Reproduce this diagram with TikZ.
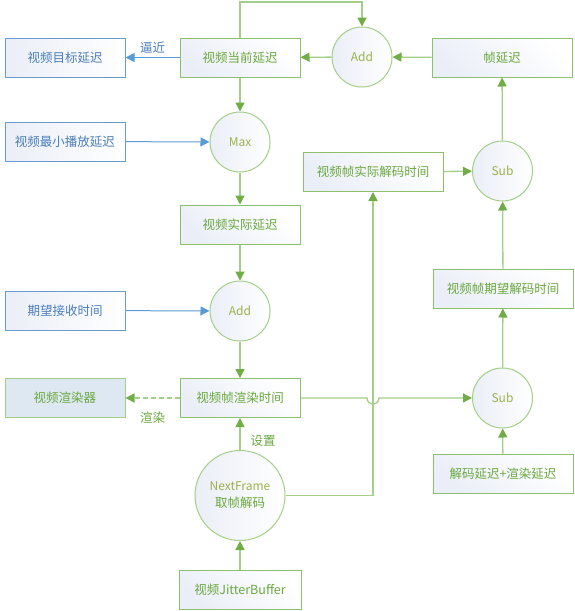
\documentclass[tikz,border=0pt]{standalone}
\usepackage{fontspec}
\setmainfont{Noto Sans CJK SC}
\usetikzlibrary{arrows.meta}
\definecolor{gline}{HTML}{A3CF88}
\definecolor{garrow}{HTML}{70AD47}
\definecolor{gborder}{HTML}{8CC06A}
\definecolor{gtext}{HTML}{6AA83E}
\definecolor{bline}{HTML}{5B9BD5}
\definecolor{bborder}{HTML}{6A9BCF}
\definecolor{btext}{HTML}{4A7EBB}
\definecolor{ctext}{HTML}{9AB24A}
\definecolor{fillA}{HTML}{FFFFFF}
\definecolor{fillB}{HTML}{EAEEF7}
\definecolor{rfill}{HTML}{DDE8F3}
\tikzset{
  x=1pt, y=-1pt,
  every node/.style={font=\fontsize{12.5}{15}\selectfont, inner sep=0pt},
  gbox/.style={draw=gborder, line width=1pt, minimum width=120pt, minimum height=39pt, shading=axis, left color=fillB, right color=fillA, shading angle=135, text=gtext},
  bbox/.style={draw=bborder, line width=1pt, minimum width=120pt, minimum height=39pt, shading=axis, shading angle=135, left color=fillB, right color=fillA, text=btext},
  wbox/.style={gbox, minimum width=140pt},
  opc/.style={circle, draw=gline, line width=1pt, minimum size=60pt, shading=axis, shading angle=135, left color=fillB, right color=fillA, text=ctext, font=\fontsize{12}{14}\selectfont},
  gar/.style={draw=gline, line width=1.3pt, -{Triangle[length=9pt,width=9pt,fill=garrow,color=garrow]}},
  bar/.style={draw=bline, line width=1pt, -{Triangle[length=9pt,width=9pt,fill=bline,color=bline]}},
  lbl/.style={text=gtext, font=\fontsize{12.5}{15}\selectfont},
  blbl/.style={text=btext, font=\fontsize{12.5}{15}\selectfont}
}
\begin{document}
\begin{tikzpicture}
\useasboundingbox (0,0) rectangle (574,611);
\fill[white] (0,0) rectangle (574,611);
% nodes
\node[bbox] (target) at (65,57.5) {视频目标延迟};
\node[gbox] (cur) at (240,57.5) {视频当前延迟};
\node[opc] (addtop) at (362,57) {Add};
\node[wbox] (frdelay) at (502,57.5) {帧延迟};
\node[bbox] (minplay) at (65,141.5) {视频最小播放延迟};
\node[opc] (max) at (240,142) {Max};
\node[wbox] (actdec) at (373,172) {视频帧实际解码时间};
\node[opc] (subtop) at (502.5,171) {Sub};
\node[gbox] (actdelay) at (240,224.5) {视频实际延迟};
\node[opc] (addmid) at (240,311) {Add};
\node[bbox] (recv) at (65,310.5) {期望接收时间};
\node[wbox] (expdec) at (503,288.5) {视频帧期望解码时间};
\node[gbox, left color=rfill, right color=rfill, draw=gline] (renderer) at (65,398) {视频渲染器};
\node[gbox] (rtime) at (240,398) {视频帧渲染时间};
\node[opc] (subbot) at (502.5,398) {Sub};
\node[opc, minimum size=90pt, align=center] (next) at (240,495.5) {NextFrame\\[3pt]\textcolor{gtext}{\fontsize{12.5}{15}\selectfont 取帧解码}};
\node[wbox] (decr) at (503,473.5) {解码延迟+渲染延迟};
\node[gbox, minimum width=122pt] (jb) at (240,589.5) {视频JitterBuffer};
% connectors
\draw[gar] (cur.north) -- (240,2) -- (362,2) -- (addtop.north);
\draw[gar] (addtop) -- (cur);
\draw[gar] (frdelay) -- (addtop);
\draw[bar] (cur) -- node[above=4pt, blbl] {逼近} (target);
\draw[gar] (cur) -- (max);
\draw[bar] (minplay) -- (max);
\draw[gar] (max) -- (actdelay);
\draw[gar] (actdelay) -- (addmid);
\draw[bar] (recv) -- (addmid);
\draw[gar] (addmid) -- (rtime);
\draw[draw=gline, line width=1.3pt, dashed, dash pattern=on 5pt off 3pt, -{Triangle[length=9pt,width=9pt,fill=garrow,color=garrow]}] (rtime) -- node[below=13pt, lbl] {渲染} (renderer);
\draw[gar] (rtime.east) -- (367,398) arc[start angle=180, end angle=0, radius=6] -- (subbot.west);
\draw[gar] (next.east) -- (373,495.5) -- (actdec.south);
\draw[gar] (actdec) -- (subtop);
\draw[gar] (subtop) -- (frdelay);
\draw[gar] (expdec) -- (subtop);
\draw[gar] (subbot) -- (expdec);
\draw[gar] (decr) -- (subbot);
\draw[gar] (next) -- node[right=10pt, pos=0.3, lbl] {设置} (rtime);
\draw[gar] (jb) -- (next);
\end{tikzpicture}
\end{document}
